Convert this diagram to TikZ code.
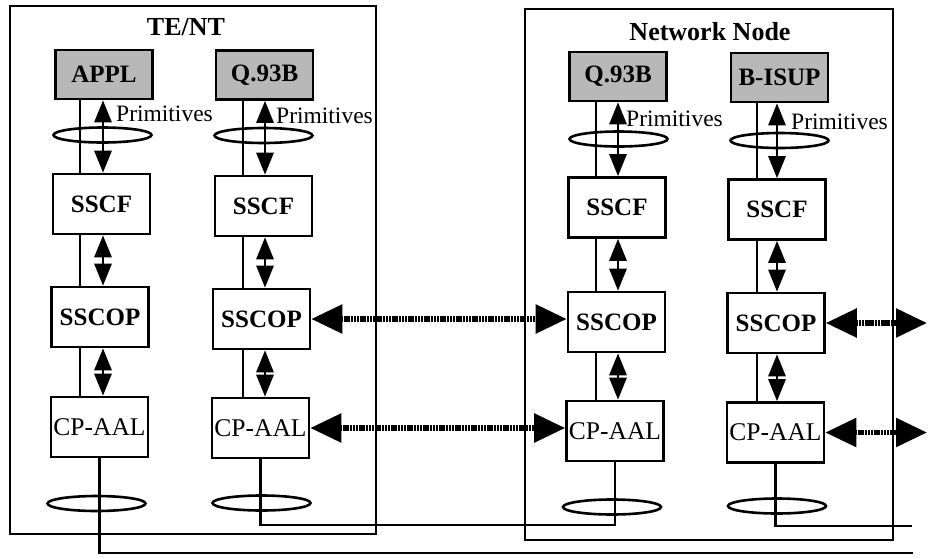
\documentclass[tikz,border=0pt]{standalone}
\usepackage{fontspec}
\setmainfont{Liberation Serif}
\usetikzlibrary{arrows.meta,shapes.geometric}
\begin{document}
\begin{tikzpicture}[x=1pt,y=-1pt,
 layerbox/.style={draw, line width=2.6pt, fill=white, minimum width=97pt, minimum height=60pt, inner sep=0pt, font=\fontsize{25}{29}\selectfont\bfseries},
 topbox/.style={layerbox, fill=black!28, minimum height=49pt},
 aalbox/.style={layerbox, font=\fontsize{25.5}{29}\selectfont},
 ring/.style={draw, ellipse, line width=2.6pt, minimum width=98pt, minimum height=15pt, inner sep=0pt},
 wire/.style={line width=2.3pt},
 varrow/.style={line width=2.8pt, {Triangle[width=17pt,length=22pt]}-{Triangle[width=17pt,length=22pt]}},
 harrow/.style={line width=5.5pt, dash pattern=on 2.5pt off 0.7pt, {Triangle[width=28pt,length=31pt]}-{Triangle[width=28pt,length=31pt]}},
 prim/.style={font=\fontsize{23.5}{27}\selectfont, anchor=west, inner sep=0pt},
 title/.style={font=\fontsize{26}{30}\selectfont\bfseries, inner sep=0pt},
 frame/.style={draw, line width=2.6pt, inner sep=0pt}
]
\useasboundingbox (0,0) rectangle (929,558);

% outer frames
\node[frame, minimum width=366pt, minimum height=528pt] (tent) at (193,270) {};
\node[frame, minimum width=368pt, minimum height=531pt] (netnode) at (709,274.5) {};
\node[title] (tentlbl) at (186,27) {TE/NT};
\node[title] (netlbl) at (710,32) {Network Node};

% column A
\node[topbox] (applA) at (104,74.5) {APPL};
\node[layerbox] (sscfA) at (101.5,204) {SSCF};
\node[layerbox] (sscopA) at (100,317) {SSCOP};
\node[aalbox] (cpA) at (99.5,427) {CP-AAL};
% column B
\node[topbox] (qB) at (264.5,75) {Q.93B};
\node[layerbox] (sscfB) at (263.5,206) {SSCF};
\node[layerbox] (sscopB) at (261.5,319) {SSCOP};
\node[aalbox] (cpB) at (260.5,428) {CP-AAL};
% column C
\node[topbox] (qC) at (618,76.5) {Q.93B};
\node[layerbox] (sscfC) at (617,207.5) {SSCF};
\node[layerbox] (sscopC) at (616.5,322) {SSCOP};
\node[aalbox] (cpC) at (615,431) {CP-AAL};
% column D
\node[topbox] (bD) at (779.5,77.5) {B-ISUP};
\node[layerbox] (sscfD) at (777,209.5) {SSCF};
\node[layerbox] (sscopD) at (776,323) {SSCOP};
\node[aalbox] (cpD) at (775.5,432.5) {CP-AAL};

% x positions of thin lines and arrows
\coordinate (tA) at (80,0);  \coordinate (aA) at (103,0);
\coordinate (tB) at (243,0); \coordinate (aB) at (265,0);
\coordinate (tC) at (596,0); \coordinate (aC) at (618,0);
\coordinate (tD) at (757,0); \coordinate (aD) at (777,0);

% thin vertical lines
\foreach \t/\a/\b/\c/\d in {tA/applA/sscfA/sscopA/cpA, tB/qB/sscfB/sscopB/cpB, tC/qC/sscfC/sscopC/cpC, tD/bD/sscfD/sscopD/cpD}{
  \draw[wire] (\a.south -| \t) -- (\b.north -| \t);
  \draw[wire] (\b.south -| \t) -- (\c.north -| \t);
  \draw[wire] (\c.south -| \t) -- (\d.north -| \t);
}
% double arrows
\foreach \t/\a/\b/\c/\d in {aA/applA/sscfA/sscopA/cpA, aB/qB/sscfB/sscopB/cpB, aC/qC/sscfC/sscopC/cpC, aD/bD/sscfD/sscopD/cpD}{
  \draw[varrow] (\a.south -| \t) -- (\b.north -| \t);
  \draw[varrow] (\b.south -| \t) -- (\c.north -| \t);
  \draw[varrow] (\c.south -| \t) -- (\d.north -| \t);
}

% Primitives labels
\node[prim] (pA) at (116,114) {Primitives};
\node[prim] (pB) at (276,116) {Primitives};
\node[prim] (pC) at (626,119) {Primitives};
\node[prim] (pD) at (791,122) {Primitives};

% top rings
\node[ring] (rtA) at (102.5,135) {};
\node[ring] (rtB) at (263.5,135.5) {};
\node[ring] (rtC) at (618.5,139) {};
\node[ring] (rtD) at (779.5,140.5) {};

% bottom wires
\coordinate (botA) at (913,553);
\coordinate (midY) at (0,525);
\coordinate (botD) at (912,526);
\draw[wire] (cpA.south) |- (botA);
\draw[wire] (cpB.south) |- (midY -| cpC.south) -- (cpC.south);
\draw[wire] (cpD.south) |- (botD);

% bottom rings
\node[ring] (rbA) at (96.5,503.5) {};
\node[ring] (rbB) at (261.5,503) {};
\node[ring] (rbC) at (612,507) {};
\node[ring] (rbD) at (777,506) {};

% peer arrows
\coordinate (edge) at (927,0);
\draw[harrow] (sscopB.east) -- (sscopC.west |- sscopB.east);
\draw[harrow] (cpB.east) -- (cpC.west |- cpB.east);
\draw[harrow] (sscopD.east) -- (edge |- sscopD.east);
\draw[harrow] (cpD.east) -- (edge |- cpD.east);
\end{tikzpicture}
\end{document}
